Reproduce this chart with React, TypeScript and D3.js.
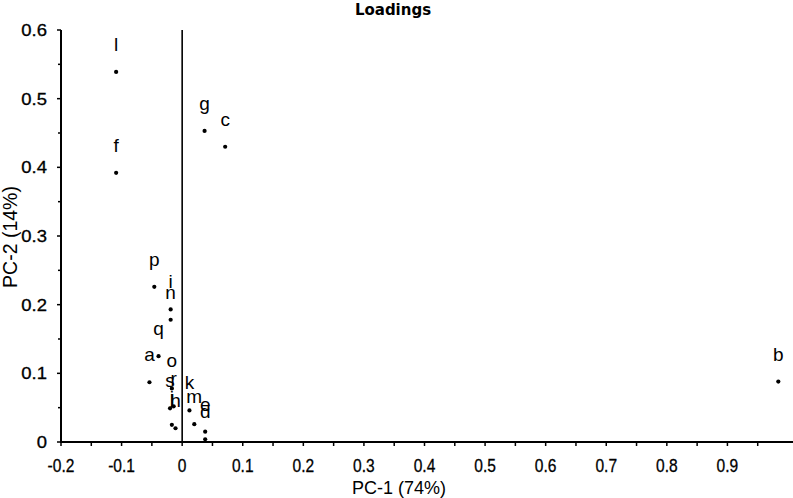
import React from "react";
import * as d3 from "d3";

const labels = ["a","b","c","d","e","f","g","h","i","j","k","l","m","n","o","p","q","r","s"];
const pc1 = [-0.054, 0.984, 0.071, 0.038, 0.038, -0.109, 0.037, -0.011, -0.019, -0.017, 0.012, -0.109, 0.020, -0.019, -0.017, -0.046, -0.039, -0.014, -0.020];
const pc2 = [0.087, 0.088, 0.430, 0.004, 0.015, 0.392, 0.453, 0.020, 0.193, 0.025, 0.046, 0.539, 0.026, 0.178, 0.078, 0.226, 0.125, 0.052, 0.049];

const xMajor = [-0.2,-0.1,0,0.1,0.2,0.3,0.4,0.5,0.6,0.7,0.8,0.9];
const xMajorLabels = ["-0.2","-0.1","0","0.1","0.2","0.3","0.4","0.5","0.6","0.7","0.8","0.9"];
const yMajor = [0,0.1,0.2,0.3,0.4,0.5,0.6];
const yMajorLabels = ["0","0.1","0.2","0.3","0.4","0.5","0.6"];

const title = "Loadings";
const xTitle = "PC-1 (74%)";
const yTitle = "PC-2 (14%)";

export default function App() {
  const W = 793, H = 498;
  const x = d3.scaleLinear().domain([-0.2, 1.0]).range([61, 788]);
  const y = d3.scaleLinear().domain([0, 0.6]).range([442, 30]);
  const xMinor = d3.range(-0.2, 0.951, 0.05);
  const yMinor = d3.range(0, 0.601, 0.05);
  const font = "'Liberation Sans', Arial, sans-serif";
  return (
    <svg width={W} height={H} style={{ position: "absolute", left: 0, top: 0, background: "#fff" }} fontFamily={font}>
      <rect x={0} y={0} width={W} height={H} fill="#fff" />
      <text x={393} y={15} textAnchor="middle" fontSize={15} fontWeight="bold" fontFamily="'DejaVu Sans', sans-serif">{title}</text>
      {/* y axis */}
      <line x1={x(-0.2)} x2={x(-0.2)} y1={y(0.6)} y2={y(0) + 1} stroke="#000" strokeWidth={2} />
      {yMinor.map((v, i) => (
        <line key={"ym" + i} x1={x(-0.2) - (i % 2 === 0 ? 4 : 3)} x2={x(-0.2)} y1={y(v)} y2={y(v)} stroke="#000" strokeWidth={1.5} />
      ))}
      {yMajor.map((v, i) => (
        <text key={"yl" + i} transform={`translate(47,${y(v) + 6}) scale(1.12,1)`} textAnchor="end" fontSize={16.5} stroke="#000" strokeWidth={0.3}>{yMajorLabels[i]}</text>
      ))}
      {/* x axis */}
      <line x1={x(-0.2) - 1} x2={W} y1={y(0)} y2={y(0)} stroke="#000" strokeWidth={2} />
      {xMinor.map((v, i) => (
        <line key={"xm" + i} x1={x(v)} x2={x(v)} y1={y(0)} y2={y(0) + 4} stroke="#000" strokeWidth={1.5} />
      ))}
      {xMajor.map((v, i) => (
        <text key={"xl" + i} transform={`translate(${x(v)},472) scale(0.82,1)`} textAnchor="middle" fontSize={19} stroke="#000" strokeWidth={0.3}>{xMajorLabels[i]}</text>
      ))}
      {/* zero line */}
      <line x1={x(0)} x2={x(0)} y1={y(0.6)} y2={y(0)} stroke="#000" strokeWidth={1.6} />
      {/* points */}
      {labels.map((l, i) => (
        <g key={"p" + i}>
          <circle cx={x(pc1[i])} cy={y(pc2[i])} r={2.1} fill="#000" />
          <text x={x(pc1[i])} y={y(pc2[i]) - 21} textAnchor="middle" fontSize={19}>{l}</text>
        </g>
      ))}
      <text x={399} y={494} textAnchor="middle" fontSize={18}>{xTitle}</text>
      <text transform={`translate(17,237) rotate(-90)`} textAnchor="middle" fontSize={19.5}>{yTitle}</text>
    </svg>
  );
}
